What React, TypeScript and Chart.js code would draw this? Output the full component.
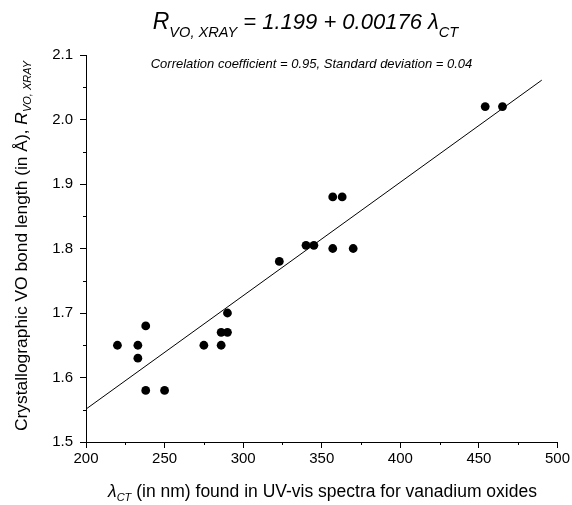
import React, { useEffect, useRef } from "react";
import { Chart, registerables } from "chart.js";

Chart.register(...registerables);

const pointsX = [220, 233, 233, 238, 238, 250, 275, 286, 286, 290, 290, 323, 340, 345, 357, 363, 357, 370, 454, 465];
const pointsY = [1.65, 1.65, 1.63, 1.68, 1.58, 1.58, 1.65, 1.67, 1.65, 1.70, 1.67, 1.78, 1.805, 1.805, 1.88, 1.88, 1.80, 1.80, 2.02, 2.02];
const fitX = [200, 490];
const fitY = [1.551, 2.061];
const xMinorTicks = [225, 275, 325, 375, 425, 475];
const yMinorTicks = [1.55, 1.65, 1.75, 1.85, 1.95, 2.05];

type Part = { text: string; font: string; dy: number };

function drawRich(ctx: CanvasRenderingContext2D, parts: Part[], x: number, y: number) {
  let total = 0;
  for (const p of parts) {
    ctx.font = p.font;
    total += ctx.measureText(p.text).width;
  }
  let cx = x - total / 2;
  ctx.textAlign = "left";
  ctx.textBaseline = "alphabetic";
  for (const p of parts) {
    ctx.font = p.font;
    ctx.fillText(p.text, cx, y + p.dy);
    cx += ctx.measureText(p.text).width;
  }
}

const FF = "'Liberation Sans', Arial, sans-serif";

const textPlugin = {
  id: "textPlugin",
  afterDraw(chart: any) {
    const ctx: CanvasRenderingContext2D = chart.ctx;
    const xs = chart.scales.x;
    const ys = chart.scales.y;
    const area = chart.chartArea;
    ctx.save();
    ctx.fillStyle = "#000";
    ctx.strokeStyle = "#000";
    ctx.lineWidth = 1;
    // minor ticks
    ctx.beginPath();
    for (const v of xMinorTicks) {
      const px = Math.round(xs.getPixelForValue(v)) + 0.5;
      ctx.moveTo(px, area.bottom);
      ctx.lineTo(px, area.bottom + 3);
    }
    for (const v of yMinorTicks) {
      const py = Math.round(ys.getPixelForValue(v)) + 0.5;
      ctx.moveTo(area.left, py);
      ctx.lineTo(area.left - 3, py);
    }
    ctx.stroke();

    // title
    drawRich(ctx, [
      { text: "R", font: `italic 23px ${FF}`, dy: 0 },
      { text: "VO, XRAY", font: `italic 14.6px ${FF}`, dy: 8 },
      { text: " = 1.199 + 0.00176 ", font: `italic 22px ${FF}`, dy: 0 },
      { text: "\u03bb", font: `italic 22px ${FF}`, dy: 0 },
      { text: "CT", font: `italic 14.6px ${FF}`, dy: 8 },
    ], 305.5, 29);

    // subtitle
    drawRich(ctx, [
      { text: "Correlation coefficient = 0.95, Standard deviation = 0.04", font: `italic 13px ${FF}`, dy: 0 },
    ], 311.5, 68);

    // x axis title
    drawRich(ctx, [
      { text: "\u03bb", font: `italic 17.5px ${FF}`, dy: 0 },
      { text: "CT", font: `italic 11px ${FF}`, dy: 4 },
      { text: " (in nm) found in UV-vis spectra for vanadium oxides", font: `17.5px ${FF}`, dy: 0 },
    ], 322.5, 497);

    // y axis title
    ctx.translate(27, 246);
    ctx.rotate(-Math.PI / 2);
    drawRich(ctx, [
      { text: "Crystallographic VO bond length (in \u00c5), ", font: `17.4px ${FF}`, dy: 0 },
      { text: "R", font: `italic 17.4px ${FF}`, dy: 0 },
      { text: "VO, XRAY", font: `italic 11px ${FF}`, dy: 4 },
    ], 0, 0);
    ctx.restore();
  },
};

export default function App() {
  const ref = useRef<HTMLCanvasElement | null>(null);
  useEffect(() => {
    if (!ref.current) return;
    const chart = new Chart(ref.current, {
      type: "scatter",
      data: {
        datasets: [
          {
            type: "line",
            data: fitX.map((x, i) => ({ x, y: fitY[i] })),
            borderColor: "#000",
            borderWidth: 1,
            pointRadius: 0,
            fill: false,
          } as any,
          {
            type: "scatter",
            data: pointsX.map((x, i) => ({ x, y: pointsY[i] })),
            backgroundColor: "#000",
            borderColor: "#000",
            pointRadius: 4.4,
            borderWidth: 0,
          },
        ],
      },
      options: {
        animation: false,
        responsive: false,
        devicePixelRatio: 1,
        layout: { padding: { top: 55, right: 13, left: 0, bottom: 0 } },
        plugins: { legend: { display: false }, tooltip: { enabled: false }, title: { display: false } },
        scales: {
          x: {
            type: "linear",
            min: 200,
            max: 500,
            afterFit: (s: any) => { s.height = 63; },
            ticks: { stepSize: 50, color: "#000", font: { family: FF, size: 15 }, padding: 2, maxRotation: 0 },
            grid: { display: true, drawOnChartArea: false, drawTicks: true, tickLength: 6, color: "#000", tickColor: "#000" },
            border: { display: true, color: "#000", width: 1 },
          },
          y: {
            type: "linear",
            min: 1.5,
            max: 2.1,
            afterFit: (s: any) => { s.width = 86; },
            ticks: { stepSize: 0.1, color: "#000", font: { family: FF, size: 15 }, padding: 7, callback: (v: any) => Number(v).toFixed(1) },
            grid: { display: true, drawOnChartArea: false, drawTicks: true, tickLength: 6, color: "#000", tickColor: "#000" },
            border: { display: true, color: "#000", width: 1 },
          },
        },
      },
      plugins: [textPlugin],
    });
    return () => chart.destroy();
  }, []);
  return (
    <div style={{ position: "absolute", left: 0, top: 0, width: 572, height: 505 }}>
      <canvas ref={ref} width={572} height={505} style={{ display: "block" }} />
    </div>
  );
}
